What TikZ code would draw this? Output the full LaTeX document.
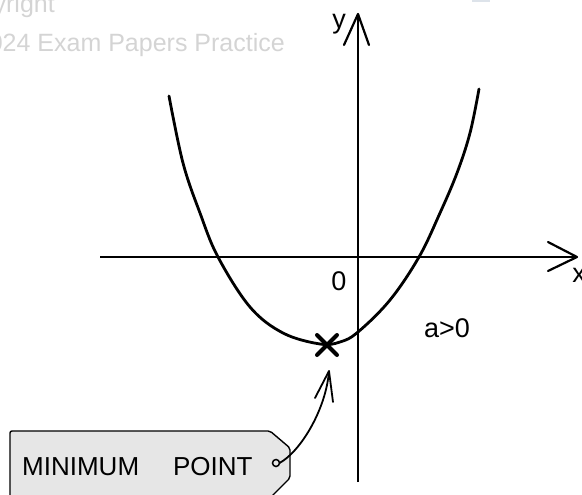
\documentclass[tikz,border=0pt]{standalone}
\usepackage{fontspec}
\setmainfont{Liberation Sans}
\usetikzlibrary{calc}
\definecolor{wmgray}{HTML}{D4D4D4}
\definecolor{tagfill}{HTML}{E6E6E6}
\definecolor{patch}{HTML}{DDE3EA}
\begin{document}
\begin{tikzpicture}[x=1pt,y=-1pt,
  axis/.style={line width=2.2pt},
  curve/.style={line width=2.8pt, line cap=round, line join=round},
  barb/.style={line width=2.2pt, line cap=round, line join=round},
  lbl/.style={inner sep=0pt, font=\fontsize{27}{29}\selectfont},
  wm/.style={text=wmgray, inner sep=0pt, font=\fontsize{25}{28}\selectfont}]
\useasboundingbox (0,0) rectangle (582,495);
\clip (0,0) rectangle (582,495);
% watermark
\node[wm, anchor=base east] (wm1) at (55,13) {Copyright};
\node[wm, anchor=base east] (wm2) at (285,52) {© 2024 Exam Papers Practice};
\fill[patch] (472,0) rectangle (490,2);
% axes
\coordinate (xl) at (100,257);
\coordinate (xr) at (577,257);
\coordinate (yb) at (358,482);
\coordinate (yt) at (358,14);
\draw[axis] (xl) -- (xr);
\draw[axis] (yb) -- (yt);
\draw[barb] (548,242) -- (xr) -- (548,271);
\draw[barb] (344,45) -- (yt) -- (369,45);
\node[lbl, anchor=center] (ylab) at (339,24) {y};
\node[lbl, anchor=center] (xlab) at (579,275) {x};
\node[lbl, anchor=center] (olab) at (339,281) {0};
\node[lbl, anchor=center] (alab) at (447,328) {a>0};
% parabola
\draw[curve] plot[smooth, tension=0.6] coordinates {(169,96) (183,163) (200,213) (218,257) (250,307) (283,333) (320,344) (340,342) (358,332) (390,300) (419,257) (440,213) (457,173) (470,133) (479,89)};
% minimum mark
\coordinate (minpt) at (327,345);
\draw[line width=4pt, line cap=round] ($(minpt)+(-10,-10)$) -- ($(minpt)+(10,10)$);
\draw[line width=4pt, line cap=round] ($(minpt)+(-10,10)$) -- ($(minpt)+(10,-10)$);
% tag
\draw[line width=1.4pt, fill=tagfill, rounded corners=2pt] (10,510) -- (10,431) -- (270,431) -- (290,448) -- (290,478) -- (268,500) -- (268,510);
\node[inner sep=0pt, anchor=base west, font=\fontsize{26}{28}\selectfont] (tag) at (22,475) {MINIMUM\hspace{34pt}POINT};
\coordinate (hole) at (276,463);
\draw[line width=1.5pt] (hole) circle (3.5);
\coordinate (tip) at (329,371);
\draw[line width=1.8pt] ($(hole)+(3.5,0)$) .. controls (300,452) and (326,410) .. (tip);
\draw[line width=1.8pt, line cap=round, line join=round] (315,398) -- (tip) -- (333,402);
\end{tikzpicture}
\end{document}
